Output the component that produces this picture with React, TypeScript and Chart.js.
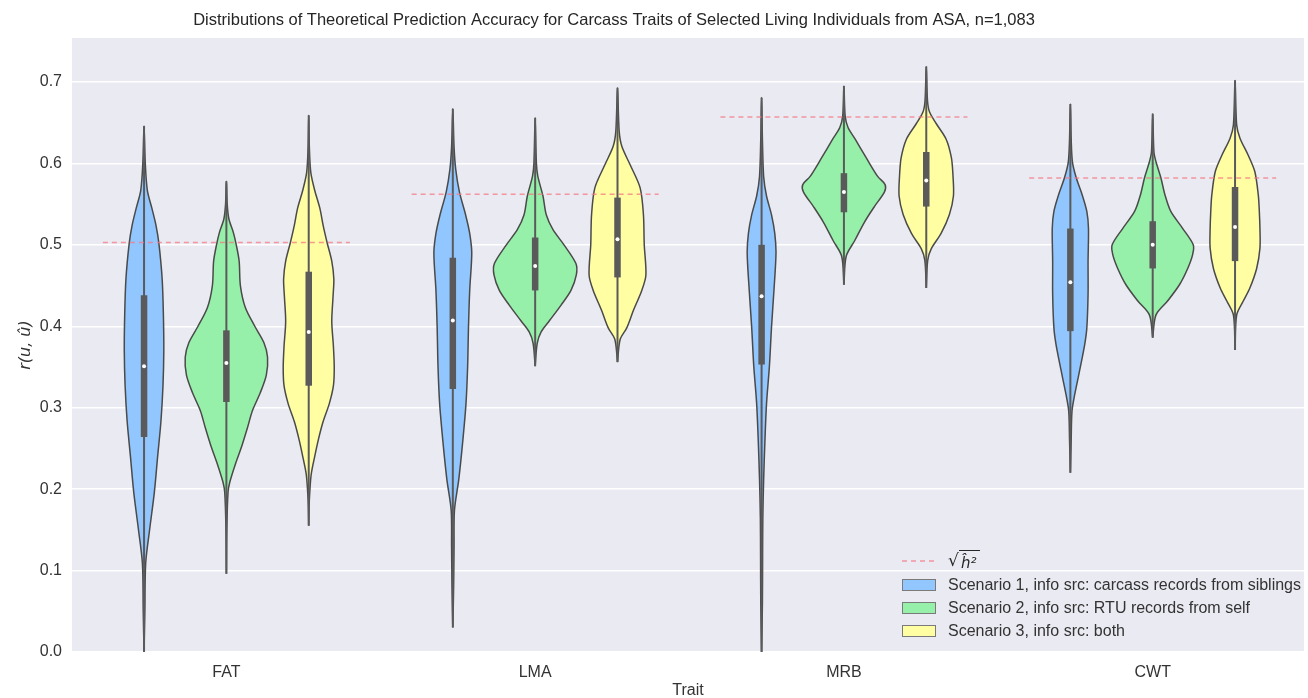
import React, { useEffect, useRef } from 'react';
import { Chart, registerables } from 'chart.js';

Chart.register(...registerables);

const categories = ['FAT', 'LMA', 'MRB', 'CWT'];
const scenarioLabels = [
  'Scenario 1, info src: carcass records from siblings',
  'Scenario 2, info src: RTU records from self',
  'Scenario 3, info src: both',
];
const scenarioColors = ['#92C6FF', '#97F0AA', '#FFFEA3'];
const sqrtH2Values = [0.503, 0.562, 0.657, 0.582];
const yTickValues = [0, 0.1, 0.2, 0.3, 0.4, 0.5, 0.6, 0.7];
const chartTitle =
  'Distributions of Theoretical Prediction Accuracy for Carcass Traits of Selected Living Individuals from ASA, n=1,083';

// inner box statistics per trait (FAT, LMA, MRB, CWT)
const q1Scenario1 = [0.264, 0.323, 0.353, 0.394];
const medianScenario1 = [0.351, 0.407, 0.437, 0.454];
const q3Scenario1 = [0.438, 0.484, 0.5, 0.52];
const q1Scenario2 = [0.307, 0.444, 0.54, 0.471];
const medianScenario2 = [0.355, 0.474, 0.565, 0.5];
const q3Scenario2 = [0.395, 0.509, 0.588, 0.529];
const q1Scenario3 = [0.327, 0.46, 0.547, 0.48];
const medianScenario3 = [0.393, 0.507, 0.579, 0.522];
const q3Scenario3 = [0.467, 0.558, 0.614, 0.571];

// violin density profiles: [accuracy, relative density]
const fatScenario1 = [[0, 0], [0.05, 0.02], [0.109, 0.04], [0.152, 0.14], [0.196, 0.25], [0.24, 0.33], [0.283, 0.41], [0.327, 0.46], [0.37, 0.48], [0.414, 0.47], [0.458, 0.44], [0.502, 0.36], [0.524, 0.29], [0.545, 0.19], [0.567, 0.08], [0.6, 0.03], [0.646, 0]];
const fatScenario2 = [[0.096, 0], [0.15, 0.01], [0.196, 0.04], [0.209, 0.085], [0.231, 0.22], [0.253, 0.375], [0.275, 0.51], [0.296, 0.63], [0.318, 0.82], [0.34, 0.97], [0.362, 1.0], [0.38, 0.91], [0.4, 0.69], [0.423, 0.46], [0.45, 0.34], [0.48, 0.31], [0.5, 0.24], [0.515, 0.17], [0.532, 0.06], [0.55, 0.02], [0.578, 0]];
const fatScenario3 = [[0.155, 0], [0.18, 0.01], [0.196, 0.025], [0.218, 0.06], [0.24, 0.145], [0.262, 0.24], [0.283, 0.35], [0.305, 0.5], [0.327, 0.6], [0.349, 0.62], [0.375, 0.6], [0.406, 0.56], [0.436, 0.59], [0.458, 0.61], [0.48, 0.56], [0.502, 0.45], [0.524, 0.35], [0.545, 0.27], [0.567, 0.145], [0.589, 0.05], [0.62, 0.015], [0.659, 0]];
const lmaScenario1 = [[0.03, 0], [0.08, 0.02], [0.13, 0.03], [0.174, 0.04], [0.212, 0.145], [0.258, 0.24], [0.305, 0.32], [0.351, 0.36], [0.398, 0.38], [0.444, 0.41], [0.49, 0.46], [0.514, 0.41], [0.537, 0.31], [0.565, 0.16], [0.593, 0.07], [0.62, 0.03], [0.667, 0]];
const lmaScenario2 = [[0.351, 0], [0.379, 0.05], [0.393, 0.145], [0.407, 0.35], [0.426, 0.63], [0.444, 0.87], [0.463, 1.0], [0.477, 0.99], [0.5, 0.7], [0.519, 0.43], [0.537, 0.27], [0.56, 0.19], [0.584, 0.065], [0.6, 0.03], [0.656, 0]];
const lmaScenario3 = [[0.356, 0], [0.384, 0.065], [0.398, 0.225], [0.42, 0.39], [0.444, 0.59], [0.463, 0.69], [0.5, 0.65], [0.537, 0.63], [0.57, 0.55], [0.598, 0.31], [0.621, 0.105], [0.64, 0.04], [0.693, 0]];
const mrbScenario1 = [[0, 0], [0.06, 0.02], [0.12, 0.025], [0.165, 0.03], [0.212, 0.05], [0.258, 0.08], [0.305, 0.12], [0.351, 0.19], [0.398, 0.24], [0.444, 0.3], [0.49, 0.35], [0.514, 0.32], [0.537, 0.24], [0.56, 0.12], [0.584, 0.05], [0.63, 0.02], [0.681, 0]];
const mrbScenario2 = [[0.451, 0], [0.486, 0.055], [0.505, 0.26], [0.528, 0.5], [0.547, 0.74], [0.565, 0.985], [0.574, 1.0], [0.584, 0.82], [0.607, 0.54], [0.63, 0.27], [0.644, 0.1], [0.658, 0.03], [0.695, 0]];
const mrbScenario3 = [[0.447, 0], [0.481, 0.035], [0.495, 0.12], [0.514, 0.36], [0.537, 0.56], [0.56, 0.66], [0.584, 0.65], [0.607, 0.61], [0.63, 0.48], [0.649, 0.24], [0.663, 0.08], [0.677, 0.03], [0.719, 0]];
const cwtScenario1 = [[0.22, 0], [0.26, 0.02], [0.296, 0.04], [0.316, 0.105], [0.337, 0.19], [0.357, 0.27], [0.378, 0.35], [0.398, 0.4], [0.439, 0.43], [0.48, 0.43], [0.52, 0.44], [0.541, 0.4], [0.561, 0.29], [0.582, 0.145], [0.602, 0.05], [0.63, 0.02], [0.673, 0]];
const cwtScenario2 = [[0.386, 0], [0.414, 0.08], [0.431, 0.36], [0.451, 0.65], [0.471, 0.85], [0.488, 0.97], [0.5, 0.985], [0.52, 0.73], [0.541, 0.44], [0.561, 0.3], [0.582, 0.2], [0.602, 0.08], [0.614, 0.03], [0.661, 0]];
const cwtScenario3 = [[0.371, 0], [0.414, 0.04], [0.431, 0.2], [0.447, 0.36], [0.471, 0.525], [0.496, 0.605], [0.52, 0.605], [0.541, 0.59], [0.561, 0.565], [0.59, 0.48], [0.61, 0.32], [0.631, 0.12], [0.647, 0.04], [0.702, 0]];

const violinProfiles = [
  [fatScenario1, fatScenario2, fatScenario3],
  [lmaScenario1, lmaScenario2, lmaScenario3],
  [mrbScenario1, mrbScenario2, mrbScenario3],
  [cwtScenario1, cwtScenario2, cwtScenario3],
];
const q1s = [q1Scenario1, q1Scenario2, q1Scenario3];
const medians = [medianScenario1, medianScenario2, medianScenario3];
const q3s = [q3Scenario1, q3Scenario2, q3Scenario3];

const GROUP_WIDTH = 0.8;
const SLOT = GROUP_WIDTH / 3;
const HALF = SLOT / 2;
const EDGE = '#4a4a4a';
const BOX = '#5a5a5a';
const FONT = '"Liberation Sans", Arial, Helvetica, sans-serif';
const TEXT = '#333333';
const H2_COLOR = 'rgba(245, 120, 130, 0.75)';

function buildDatasets() {
  const ds: any[] = [];
  categories.forEach((_, ci) => {
    // sqrt(h2) reference line
    ds.push({
      type: 'line',
      data: [
        { x: ci - GROUP_WIDTH / 2, y: sqrtH2Values[ci] },
        { x: ci + GROUP_WIDTH / 2, y: sqrtH2Values[ci] },
      ],
      borderColor: H2_COLOR,
      borderWidth: 1.5,
      borderDash: [5, 4],
      pointRadius: 0,
      fill: false,
      order: 0,
    });
    for (let s = 0; s < 3; s++) {
      const center = ci - SLOT + s * SLOT;
      const prof = violinProfiles[ci][s];
      const right = prof.map(([v, d]) => ({ x: center + d * HALF, y: v }));
      const left = prof
        .slice()
        .reverse()
        .map(([v, d]) => ({ x: center - d * HALF, y: v }));
      ds.push({
        type: 'line',
        data: [...right, ...left.slice(1)],
        borderColor: EDGE,
        borderWidth: 1.5,
        backgroundColor: scenarioColors[s],
        fill: 'shape',
        tension: 0.3,
        pointRadius: 0,
        order: 4,
      });
      // whisker
      ds.push({
        type: 'line',
        data: [
          { x: center, y: prof[0][0] },
          { x: center, y: prof[prof.length - 1][0] },
        ],
        borderColor: BOX,
        borderWidth: 2,
        pointRadius: 0,
        fill: false,
        order: 3,
      });
      // box
      ds.push({
        type: 'line',
        data: [
          { x: center, y: q1s[s][ci] },
          { x: center, y: q3s[s][ci] },
        ],
        borderColor: BOX,
        borderWidth: 6.5,
        borderCapStyle: 'butt',
        pointRadius: 0,
        fill: false,
        order: 2,
      });
      // median
      ds.push({
        type: 'line',
        data: [{ x: center, y: medians[s][ci] }],
        showLine: false,
        pointRadius: 2,
        pointBackgroundColor: '#ffffff',
        pointBorderWidth: 0,
        pointBorderColor: '#ffffff',
        order: 1,
      });
    }
  });
  return ds;
}

const backgroundPlugin = {
  id: 'seabornBackground',
  beforeDraw(chart: any) {
    const { ctx, chartArea: a } = chart;
    ctx.save();
    ctx.fillStyle = '#ffffff';
    ctx.fillRect(0, 0, chart.width, chart.height);
    ctx.fillStyle = '#EAEAF2';
    ctx.fillRect(a.left, a.top, a.right - a.left, a.bottom - a.top);
    ctx.restore();
  },
};

const annotationPlugin = {
  id: 'titleAndLegend',
  afterDraw(chart: any) {
    const { ctx } = chart;
    ctx.save();
    // title
    ctx.fillStyle = '#262626';
    ctx.font = `16.5px ${FONT}`;
    ctx.textAlign = 'center';
    ctx.textBaseline = 'middle';
    ctx.fillText(chartTitle, 614, 20);

    // legend
    const lx = 902;
    const tx = 948;
    ctx.textAlign = 'left';
    // sqrt(h2) entry
    const y0 = 561;
    ctx.strokeStyle = H2_COLOR;
    ctx.lineWidth = 1.5;
    ctx.setLineDash([5, 4]);
    ctx.beginPath();
    ctx.moveTo(lx, y0);
    ctx.lineTo(lx + 34, y0);
    ctx.stroke();
    ctx.setLineDash([]);
    ctx.fillStyle = '#262626';
    ctx.font = `17px "DejaVu Sans", sans-serif`;
    ctx.fillText('√', tx, y0 + 1);
    ctx.font = `italic 15px "DejaVu Sans", sans-serif`;
    ctx.fillText('ĥ²', tx + 13, y0 + 3);
    ctx.strokeStyle = '#262626';
    ctx.lineWidth = 1;
    ctx.beginPath();
    ctx.moveTo(tx + 11, y0 - 10.5);
    ctx.lineTo(tx + 32, y0 - 10.5);
    ctx.stroke();

    ctx.font = `16px ${FONT}`;
    scenarioLabels.forEach((label, i) => {
      const y = 585 + i * 23;
      ctx.fillStyle = scenarioColors[i];
      ctx.fillRect(lx, y - 6, 34, 12);
      ctx.strokeStyle = '#7a7a7a';
      ctx.lineWidth = 1;
      ctx.strokeRect(lx + 0.5, y - 5.5, 33, 11);
      ctx.fillStyle = TEXT;
      ctx.fillText(label, tx, y + 1);
    });
    ctx.restore();
  },
};

export default function App() {
  const canvasRef = useRef<HTMLCanvasElement | null>(null);

  useEffect(() => {
    document.body.style.margin = '0';
    const canvas = canvasRef.current;
    if (!canvas) return;
    const chart = new Chart(canvas, {
      type: 'line',
      data: { datasets: buildDatasets() },
      options: {
        responsive: false,
        animation: false,
        events: [],
        layout: { padding: { top: 38, left: 0, right: 0, bottom: 0 } },
        plugins: {
          legend: { display: false },
          tooltip: { enabled: false },
          title: { display: false },
        },
        scales: {
          x: {
            type: 'linear',
            min: -0.5,
            max: 3.49,
            grid: { display: false, drawTicks: false },
            border: { display: false },
            afterBuildTicks: (scale: any) => {
              scale.ticks = categories.map((_, i) => ({ value: i }));
            },
            afterFit: (scale: any) => {
              scale.height = 46;
            },
            ticks: {
              padding: 11,
              color: TEXT,
              font: { family: FONT, size: 16 },
              callback: (v: any) => categories[Math.round(Number(v))] ?? '',
            },
            title: {
              display: true,
              text: 'Trait',
              color: TEXT,
              font: { family: FONT, size: 16 },
              padding: { top: 0, bottom: -2 },
            },
          },
          y: {
            type: 'linear',
            min: 0,
            max: 0.754,
            grid: { color: '#ffffff', lineWidth: 1.5, drawTicks: false },
            border: { display: false },
            afterBuildTicks: (scale: any) => {
              scale.ticks = yTickValues.map((v) => ({ value: v }));
            },
            afterFit: (scale: any) => {
              scale.width = 72;
            },
            ticks: {
              padding: 10,
              color: TEXT,
              font: { family: FONT, size: 16 },
              callback: (v: any) => Number(v).toFixed(1),
            },
            title: {
              display: true,
              text: 'r(u, û)',
              color: TEXT,
              font: { family: '"DejaVu Sans", sans-serif', size: 16, style: 'italic' },
              padding: { top: 16, bottom: 0 },
            },
          },
        },
      } as any,
      plugins: [backgroundPlugin, annotationPlugin],
    });
    return () => chart.destroy();
  }, []);

  return (
    <canvas
      ref={canvasRef}
      width={1308}
      height={698}
      style={{ display: 'block', width: 1308, height: 698 }}
    />
  );
}
